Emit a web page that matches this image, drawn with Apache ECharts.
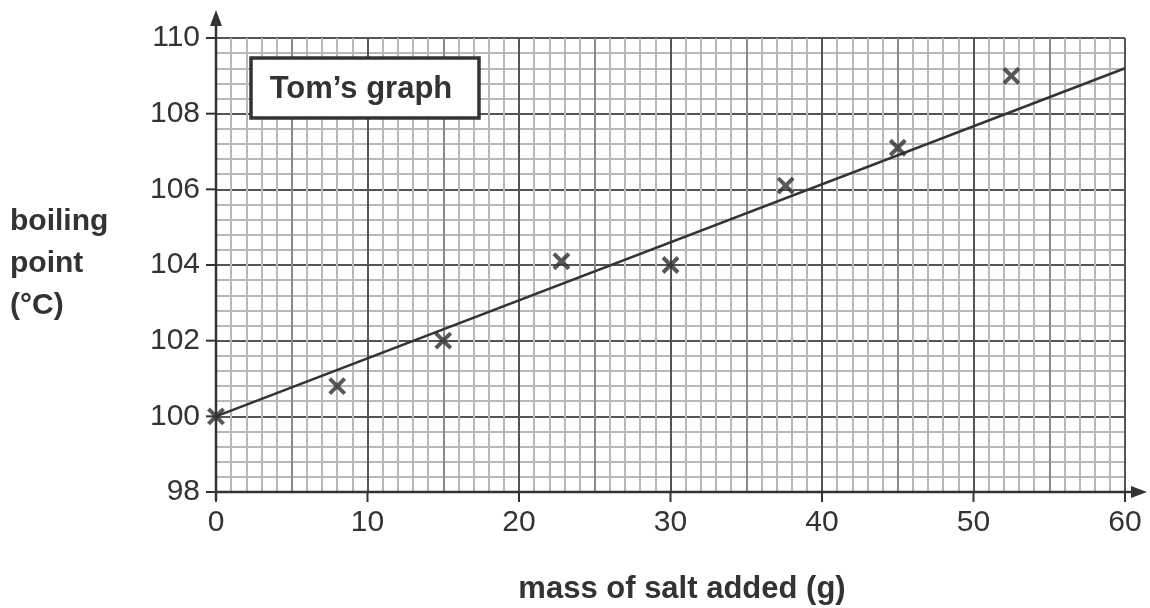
<!DOCTYPE html>
<html>
<head>
<meta charset="utf-8">
<script src="https://cdn.jsdelivr.net/npm/echarts@6/dist/echarts.min.js"></script>
<style>html,body{margin:0;padding:0;background:#fff}#c{width:1150px;height:608px}</style>
</head>
<body>
<div id="c"></div>
<script>
// Data
const massValues = [0, 8, 15, 22.8, 30, 37.6, 45, 52.5];
const boilingValues = [100, 100.8, 102, 104.1, 104, 106.1, 107.1, 109];
const bestFitX = [0, 60];
const bestFitY = [100, 109.2];
const xTickLabels = ['0', '10', '20', '30', '40', '50', '60'];
const yTickLabels = ['98', '100', '102', '104', '106', '108', '110'];
const chartTitle = 'Tom\u2019s graph';
const xAxisName = 'mass of salt added (g)';
const yAxisName = 'boiling\npoint\n(°C)';

const chart = echarts.init(document.getElementById('c'));
const FONT = 'Liberation Sans, Arial, sans-serif';
const TXT = '#333';

const option = {
  animation: false,
  backgroundColor: '#fff',
  grid: { left: 216, right: 25, top: 38, bottom: 116 },
  xAxis: {
    type: 'value', min: 0, max: 60, interval: 5,
    axisLine: { show: false },
    axisTick: { show: false },
    axisLabel: {
      margin: 16, fontSize: 30, color: TXT, fontFamily: FONT,
      formatter: v => (v % 10 === 0 && xTickLabels.includes(String(v))) ? String(v) : ''
    },
    splitLine: { show: true, lineStyle: { color: ['#555', '#8a8a8a'], width: 2 } },
    minorTick: { show: false, splitNumber: 5 },
    minorSplitLine: { show: true, lineStyle: { color: '#b8b8b8', width: 2 } }
  },
  yAxis: {
    type: 'value', min: 98, max: 110, interval: 2,
    axisLine: { show: false },
    axisTick: { show: false },
    axisLabel: {
      margin: 16, fontSize: 30, color: TXT, fontFamily: FONT,
      formatter: v => yTickLabels.includes(String(v)) ? String(v) : ''
    },
    splitLine: { show: true, lineStyle: { color: '#555', width: 2 } },
    minorTick: { show: false, splitNumber: 5 },
    minorSplitLine: { show: true, lineStyle: { color: '#b8b8b8', width: 2 } }
  },
  series: [
    {
      type: 'line',
      data: bestFitX.map((x, i) => [x, bestFitY[i]]),
      symbol: 'none',
      lineStyle: { color: '#333', width: 2.5 },
      z: 3
    },
    {
      type: 'scatter',
      data: massValues.map((x, i) => [x, boilingValues[i]]),
      symbol: 'path://M0,0 L10,10 M10,0 L0,10',
      symbolSize: 15,
      itemStyle: { color: 'none', borderColor: '#2e2e2e', borderWidth: 4 },
      z: 4
    }
  ]
};
chart.setOption(option);

function drawDecor() {
  const p0 = chart.convertToPixel({ gridIndex: 0 }, [0, 98]);
  const pTop = chart.convertToPixel({ gridIndex: 0 }, [0, 110]);
  const pRight = chart.convertToPixel({ gridIndex: 0 }, [60, 98]);
  const elements = [];
  const axisStyle = { stroke: '#333', lineWidth: 2.5 };
  elements.push({ type: 'line', shape: { x1: p0[0], y1: p0[1] + 8, x2: p0[0], y2: pTop[1] - 20 }, style: axisStyle, z: 10 });
  elements.push({ type: 'polygon', shape: { points: [[p0[0], pTop[1] - 28], [p0[0] - 6, pTop[1] - 12], [p0[0] + 6, pTop[1] - 12]] }, style: { fill: '#333' }, z: 10 });
  elements.push({ type: 'line', shape: { x1: p0[0], y1: p0[1], x2: pRight[0] + 12, y2: p0[1] }, style: axisStyle, z: 10 });
  elements.push({ type: 'polygon', shape: { points: [[pRight[0] + 22, p0[1]], [pRight[0] + 6, p0[1] - 6], [pRight[0] + 6, p0[1] + 6]] }, style: { fill: '#333' }, z: 10 });
  yTickLabels.forEach(t => {
    const p = chart.convertToPixel({ gridIndex: 0 }, [0, Number(t)]);
    elements.push({ type: 'line', shape: { x1: p[0] - 10, y1: p[1], x2: p[0], y2: p[1] }, style: { stroke: '#333', lineWidth: 2 }, z: 10 });
  });
  xTickLabels.forEach(t => {
    const p = chart.convertToPixel({ gridIndex: 0 }, [Number(t), 98]);
    elements.push({ type: 'line', shape: { x1: p[0], y1: p[1], x2: p[0], y2: p[1] + 10 }, style: { stroke: '#333', lineWidth: 2 }, z: 10 });
  });
  elements.push({ type: 'rect', shape: { x: 251, y: 58, width: 228, height: 60 }, style: { fill: '#fff', stroke: '#333', lineWidth: 3.5 }, z: 20 });
  elements.push({ type: 'text', x: 361, y: 89, style: { text: chartTitle, fill: TXT, font: 'bold 31px ' + FONT, align: 'center', verticalAlign: 'middle' }, z: 21 });
  elements.push({ type: 'text', x: 682, y: 589, style: { text: xAxisName, fill: TXT, font: 'bold 31px ' + FONT, align: 'center', verticalAlign: 'middle' }, z: 21 });
  elements.push({ type: 'text', x: 10, y: 264, style: { text: yAxisName, fill: TXT, font: 'bold 30px ' + FONT, align: 'left', verticalAlign: 'middle', lineHeight: 42 }, z: 21 });
  chart.setOption({ graphic: { elements } });
}
drawDecor();
</script>
</body>
</html>
